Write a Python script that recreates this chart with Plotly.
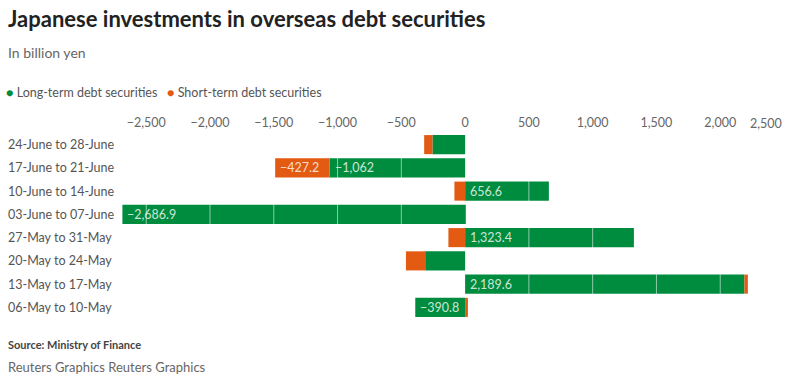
import plotly.graph_objects as go

categories = ["24-June to 28-June", "17-June to 21-June", "10-June to 14-June",
              "03-June to 07-June", "27-May to 31-May", "20-May to 24-May",
              "13-May to 17-May", "06-May to 10-May"]
long_term = [-256, -1062, 656.6, -2686.9, 1323.4, -313, 2189.6, -390.8]
short_term = [-65, -427.2, -84, 5, -131, -151, 27, 22]
long_labeled = [False, True, True, True, True, False, True, True]
short_labeled = [False, True, False, False, False, False, False, False]
tick_vals = [-2500, -2000, -1500, -1000, -500, 0, 500, 1000, 1500, 2000, 2500]

GREEN = "#008c3e"
ORANGE = "#e35a12"
FONT = "Lato"

def fmt(v):
    s = f"{abs(v):,.1f}"
    if s.endswith(".0"):
        s = s[:-2]
    return ("\u2212" if v < 0 else "") + s

fig = go.Figure()
fig.add_trace(go.Bar(y=categories, x=long_term, orientation="h", name="Long-term debt securities",
                     marker=dict(color=GREEN, line=dict(width=0)), showlegend=False))
fig.add_trace(go.Bar(y=categories, x=short_term, orientation="h", name="Short-term debt securities",
                     marker=dict(color=ORANGE, line=dict(width=0)), showlegend=False))

ann = []
# bar labels at the left edge of each segment (relative stacking)
for c, g, o, gl, ol in zip(categories, long_term, short_term, long_labeled, short_labeled):
    g_left = g if g < 0 else 0
    o_left = (min(g, 0) + o) if o < 0 else max(g, 0)
    for left, v, show in ((g_left, g, gl), (o_left, o, ol)):
        if show:
            ann.append(dict(x=left, y=c, xref="x", yref="y", text=fmt(v), showarrow=False,
                            xanchor="left", xshift=3, font=dict(family=FONT, size=12.5,
                                                                  color="rgba(255,255,255,0.8)")))

def paper_x(px):
    return (px - 122) / 662

def paper_y(py):
    return (319 - py) / 186

# category labels, left aligned
for c in categories:
    ann.append(dict(x=paper_x(6), y=c, xref="paper", yref="y", text=c, showarrow=False,
                    xanchor="left", font=dict(family=FONT, size=12.5, color="#555555")))

# last tick label kept inside the page, right-aligned on its tick
ann.append(dict(x=tick_vals[-1], y=paper_y(123), xref="x", yref="paper", yanchor="middle",
                xanchor="right", text=fmt(tick_vals[-1]), showarrow=False,
                font=dict(family=FONT, size=12.5, color="#666666")))

# white grid lines drawn over the bars
shapes = [dict(type="line", xref="x", yref="paper", x0=v, x1=v, y0=0, y1=1, layer="above",
               line=dict(color="rgba(255,255,255,0.55)", width=1)) for v in tick_vals if v != 0]

ann += [
    dict(x=paper_x(6), y=paper_y(18), xref="paper", yref="paper", xanchor="left", yanchor="middle",
         text="<b>Japanese investments in overseas debt securities</b>", showarrow=False,
         font=dict(family=FONT, size=22, color="#222222")),
    dict(x=paper_x(6), y=paper_y(53), xref="paper", yref="paper", xanchor="left", yanchor="middle",
         text="In billion yen", showarrow=False, font=dict(family=FONT, size=14, color="#666666")),
    dict(x=paper_x(4), y=paper_y(92), xref="paper", yref="paper", xanchor="left", yanchor="middle",
         text=f"<span style='color:{GREEN}'>\u25cf</span> Long-term debt securities   "
              f"<span style='color:{ORANGE}'>\u25cf</span> Short-term debt securities",
         showarrow=False, font=dict(family=FONT, size=12.5, color="#555555")),
    dict(x=paper_x(6), y=paper_y(344), xref="paper", yref="paper", xanchor="left", yanchor="middle",
         text="<b>Source: Ministry of Finance</b>", showarrow=False,
         font=dict(family=FONT, size=11, color="#444444")),
    dict(x=paper_x(6), y=paper_y(367), xref="paper", yref="paper", xanchor="left", yanchor="middle",
         text="Reuters Graphics Reuters Graphics", showarrow=False,
         font=dict(family=FONT, size=13, color="#666666")),
]

fig.update_layout(
    width=791, height=380, barmode="relative", bargap=0.18,
    margin=dict(l=122, r=7, t=133, b=61),
    plot_bgcolor="white", paper_bgcolor="white",
    font=dict(family=FONT, size=12.5, color="#666666"),
    xaxis=dict(side="top", range=[-2690, 2500], tickvals=tick_vals[:-1],
               ticktext=[fmt(v) for v in tick_vals[:-1]],
               showgrid=False, zeroline=False, showline=False, ticks="",
               ticklabelstandoff=3,
               tickfont=dict(family=FONT, size=12.5, color="#666666")),
    yaxis=dict(autorange="reversed", showticklabels=False, showgrid=False, zeroline=False,
               ticks=""),
    annotations=ann, shapes=shapes,
)

fig.write_html("out.html", config={"displayModeBar": False},
               post_script="document.body.style.margin='0';document.body.style.overflow='hidden';")
